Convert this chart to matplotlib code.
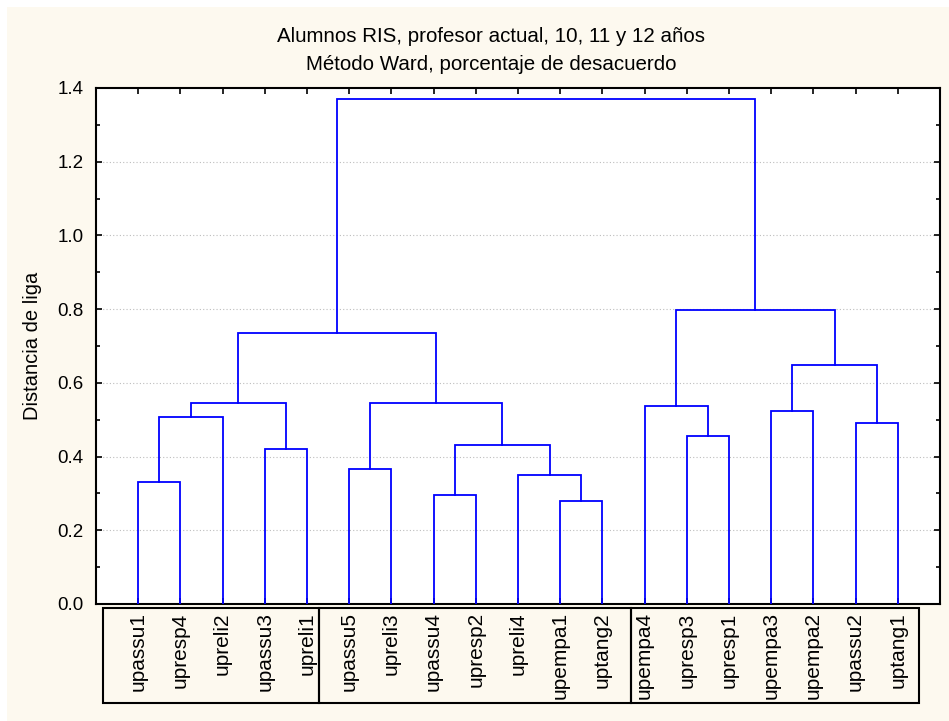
import matplotlib
matplotlib.use("Agg")
import matplotlib.pyplot as plt
from matplotlib.patches import Rectangle
from matplotlib.ticker import MultipleLocator

plt.rcParams['font.family'] = ['Liberation Sans', 'DejaVu Sans']

# leaf order as drawn, left to right
leaves = ['upassu1', 'upresp4', 'upreli2', 'upassu3', 'upreli1',
          'upassu5', 'upreli3', 'upassu4', 'upresp2', 'upreli4',
          'upempa1', 'uptang2', 'upempa4', 'upresp3', 'upresp1',
          'upempa3', 'upempa2', 'upassu2', 'uptang1']

# linkage steps: (cluster a, cluster b, distance); new clusters get ids 19, 20, ...
merge_a = [0, 19, 3, 20, 5, 7, 10, 9, 24, 23, 22, 13, 12, 15, 17, 32, 31, 29]
merge_b = [1, 2, 4, 21, 6, 8, 11, 25, 26, 27, 28, 14, 30, 16, 18, 33, 34, 35]
merge_h = [0.332, 0.508, 0.420, 0.546, 0.366, 0.297, 0.279, 0.349, 0.431,
           0.545, 0.735, 0.455, 0.537, 0.525, 0.490, 0.648, 0.798, 1.370]

# bracket boxes under the leaf labels (x in data units)
box_edges = [0.17, 5.28, 12.68, 19.5]

BG = '#fdf9ef'
BLUE = '#0000ff'

fig = plt.figure(figsize=(9.49, 7.21), dpi=100)
fig.patch.set_facecolor('white')
fig.patches.append(Rectangle((7 / 949, 0), 1, 1 - 7 / 721, transform=fig.transFigure,
                             facecolor=BG, edgecolor='none', zorder=-10))

ax = fig.add_axes([96 / 949, 1 - 604 / 721, 844 / 949, 516 / 721])
ax.set_facecolor('white')

n = len(leaves)
xpos = {i: i + 1.0 for i in range(n)}
ypos = {i: 0.0 for i in range(n)}
for k, (a, b, h) in enumerate(zip(merge_a, merge_b, merge_h)):
    xa, xb = xpos[a], xpos[b]
    ax.plot([xa, xa, xb, xb], [ypos[a], h, h, ypos[b]], color=BLUE, lw=1.3,
            solid_joinstyle='miter', zorder=3)
    xpos[n + k] = (xa + xb) / 2
    ypos[n + k] = h

ax.set_xlim(0, n + 1)
ax.set_ylim(0, 1.4)
ax.set_xticks([i + 1 for i in range(n)])
ax.set_xticklabels([])
ax.yaxis.set_major_locator(MultipleLocator(0.2))
ax.yaxis.set_minor_locator(MultipleLocator(0.1))
ax.yaxis.set_major_formatter(plt.FormatStrFormatter('%.1f'))
ax.tick_params(axis='both', which='both', direction='in', top=True, right=True,
               width=1.2, color='black')
ax.tick_params(axis='both', which='major', length=4)
ax.tick_params(axis='y', which='minor', length=3)
ax.tick_params(axis='y', which='major', labelsize=13.5, pad=9)
for s in ax.spines.values():
    s.set_linewidth(1.5)

for g in [0.2, 0.4, 0.6, 0.8, 1.0, 1.2]:
    ax.axhline(g, color='#bdbdbd', lw=0.8, ls=(0, (1, 2)), zorder=1)

ax.set_ylabel('Distancia de liga', fontsize=14.5, labelpad=11)

# leaf labels and their boxes
xt = ax.get_xaxis_transform()
for i, name in enumerate(leaves):
    ax.text(i + 1, -0.016, name, transform=xt, rotation=90, ha='center', va='top',
            fontsize=15, clip_on=False)
for x0, x1 in zip(box_edges[:-1], box_edges[1:]):
    ax.add_patch(Rectangle((x0, -0.192), x1 - x0, 0.185, transform=xt, fill=False,
                           edgecolor='black', lw=1.5, clip_on=False))

fig.text(491 / 949, 1 - 36 / 721, 'Alumnos RIS, profesor actual, 10, 11 y 12 años',
         ha='center', va='center', fontsize=14.8)
fig.text(491 / 949, 1 - 65 / 721, 'Método Ward, porcentaje de desacuerdo',
         ha='center', va='center', fontsize=14.8)

fig.savefig('out.png', dpi=100, facecolor=fig.get_facecolor())
